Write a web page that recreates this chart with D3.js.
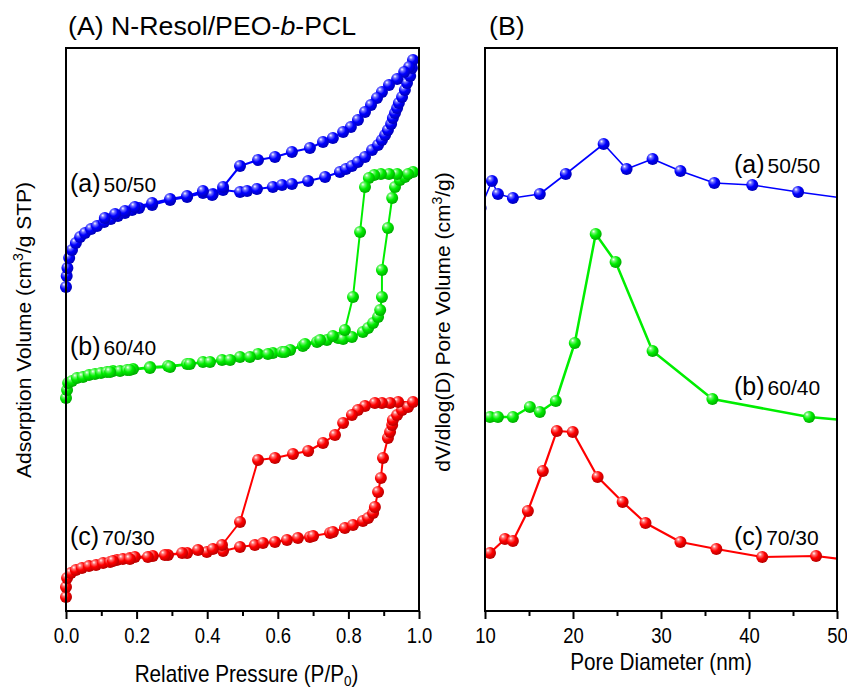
<!DOCTYPE html>
<html>
<head>
<meta charset="utf-8">
<script src="https://cdn.jsdelivr.net/npm/d3@7/dist/d3.min.js"></script>
<style>
  html, body { margin: 0; padding: 0; background: #fff; }
  svg { display: block; }
</style>
</head>
<body>
<svg id="chart" width="847" height="689"></svg>
<script>
// ---- Panel A: N2 sorption isotherms (relative pressure, adsorbed volume in offset units) ----
const isoA_ads = [[0.000,324],[0.002,335],[0.004,343],[0.009,353],[0.017,361],[0.028,368],[0.040,374],[0.054,378],[0.071,382],[0.088,385],[0.108,389],[0.127,392],[0.147,395],[0.167,398],[0.187,401],[0.207,403],[0.244,406],[0.295,411],[0.343,414],[0.388,418],[0.416,417],[0.445,421],[0.493,419],[0.513,420],[0.541,422],[0.586,424],[0.612,426],[0.640,427],[0.686,430],[0.734,434],[0.776,439],[0.793,442],[0.810,445],[0.827,449],[0.847,454],[0.867,461],[0.884,466],[0.895,471],[0.904,476],[0.912,481],[0.921,487],[0.926,493],[0.932,498],[0.938,503],[0.943,508],[0.952,514],[0.960,521],[0.966,528],[0.975,535],[0.980,543],[0.983,551]];
const isoA_des = [[0.972,544],[0.958,539],[0.938,532],[0.915,526],[0.895,519],[0.881,513],[0.864,506],[0.847,499],[0.827,491],[0.807,484],[0.785,479],[0.756,473],[0.728,469],[0.691,463],[0.640,459],[0.592,454],[0.544,451],[0.493,445],[0.445,424],[0.414,416],[0.388,420],[0.343,415],[0.295,412],[0.244,408],[0.195,404],[0.167,400],[0.139,397],[0.110,393]];

const isoB_ads = [[0.000,213],[0.003,221],[0.006,228],[0.017,230],[0.031,233],[0.048,234],[0.065,236],[0.082,237],[0.099,238],[0.116,239],[0.133,240],[0.153,240],[0.173,241],[0.190,242],[0.238,244],[0.289,245],[0.343,247],[0.388,249],[0.442,251],[0.493,254],[0.544,257],[0.586,258],[0.612,259],[0.635,261],[0.671,265],[0.711,269],[0.739,271],[0.771,273],[0.785,272],[0.810,274],[0.841,279],[0.856,283],[0.870,288],[0.884,294],[0.890,301],[0.895,314],[0.895,341],[0.912,383],[0.924,413],[0.932,424],[0.946,431],[0.960,434],[0.983,439]];
const isoB_des = [[0.969,437],[0.938,437],[0.915,437],[0.892,437],[0.873,436],[0.858,433],[0.847,424],[0.833,379],[0.813,314],[0.790,281],[0.756,275],[0.720,271],[0.677,267],[0.620,259],[0.572,257],[0.521,254],[0.465,251],[0.408,249],[0.351,247],[0.295,244],[0.238,243],[0.181,241],[0.125,239]];

const isoC_ads = [[0.000,14],[0.000,24],[0.003,33],[0.014,38],[0.028,41],[0.045,43],[0.065,45],[0.085,46],[0.105,48],[0.125,49],[0.144,51],[0.161,52],[0.181,53],[0.195,54],[0.246,55],[0.289,56],[0.343,58],[0.399,59],[0.445,60],[0.493,64],[0.535,66],[0.558,68],[0.592,69],[0.626,71],[0.657,73],[0.691,74],[0.700,75],[0.748,78],[0.756,79],[0.790,83],[0.813,86],[0.841,90],[0.856,93],[0.870,98],[0.875,104],[0.884,119],[0.892,133],[0.898,153],[0.912,173],[0.918,179],[0.924,186],[0.926,191],[0.938,196],[0.952,201],[0.969,204],[0.983,209]];
const isoC_des = [[0.941,209],[0.918,208],[0.895,208],[0.875,208],[0.847,205],[0.827,201],[0.810,196],[0.785,188],[0.762,176],[0.728,168],[0.686,160],[0.643,157],[0.592,153],[0.544,151],[0.493,89],[0.442,66],[0.416,62],[0.374,61],[0.329,58],[0.280,56],[0.232,54],[0.181,52],[0.133,50]];

// ---- Panel B: pore size distributions (pore diameter nm, dV/dlogD in offset units) ----
const psdA = [[9.5,403],[10.79,430],[11.47,417],[13.17,413],[16.23,417],[19.18,437],[23.48,467],[26.09,442],[29.04,452],[32.21,440],[36.06,428],[40.37,426],[45.58,419],[51.5,412]];
const psdB = [[10.57,194],[11.47,194],[13.17,194],[15.10,204],[16.23,199],[18.05,210],[20.20,268],[22.58,377],[24.84,349],[29.04,260],[35.84,212],[46.83,194],[52.0,190]];
const psdC = [[10.57,58],[12.27,72],[13.17,70],[14.87,100],[16.57,140],[18.16,180],[19.97,179],[22.80,134],[25.64,109],[28.24,88],[32.21,69],[36.29,62],[41.50,54],[47.62,55],[52.0,50]];

const ticksA = [0.0, 0.2, 0.4, 0.6, 0.8, 1.0];
const minorTicksA = [0.1, 0.3, 0.5, 0.7, 0.9];
const ticksB = [10, 20, 30, 40, 50];
const minorTicksB = [15, 25, 35, 45];

const sampleNames = ["(a)", "(b)", "(c)"];
const ratios = ["50/50", "60/40", "70/30"];
const colors = ["#0000ff", "#00ee00", "#ff0000"];

const svg = d3.select("#chart");
const plotTop = 48, plotBottom = 611;
const panelA = { left: 66, right: 419 };
const panelB = { left: 485, right: 837 };

const sans = "'Liberation Sans', Arial, Helvetica, sans-serif";

// sphere-style marker gradients
const defs = svg.append("defs");
colors.forEach((c, i) => {
  const g = defs.append("radialGradient").attr("id", "ball" + i)
    .attr("cx", "38%").attr("cy", "35%").attr("r", "65%").attr("fx", "32%").attr("fy", "28%");
  g.append("stop").attr("offset", "0%").attr("stop-color", "#ffffff");
  g.append("stop").attr("offset", "22%").attr("stop-color", d3.interpolateRgb("#ffffff", c)(0.55));
  g.append("stop").attr("offset", "55%").attr("stop-color", c);
  g.append("stop").attr("offset", "100%").attr("stop-color", d3.color(c).darker(0.9));
});

const xA = d3.scaleLinear().domain([0, 1]).range([panelA.left, panelA.right]);
const yA = d3.scaleLinear().domain([0, 563]).range([plotBottom, plotTop]);
const xB = d3.scaleLinear().domain([10, 50]).range([panelB.left, panelB.right]);
const yB = d3.scaleLinear().domain([0, 563]).range([plotBottom, plotTop]);

defs.append("clipPath").attr("id", "clipB").append("rect")
  .attr("x", panelB.left).attr("y", plotTop).attr("width", panelB.right - panelB.left).attr("height", plotBottom - plotTop);

function drawSeries(g, data, x, y, ci, lw, r) {
  const line = d3.line().x(d => x(d[0])).y(d => y(d[1]));
  g.append("path").datum(data).attr("d", line)
    .attr("fill", "none").attr("stroke", colors[ci]).attr("stroke-width", lw).attr("stroke-linejoin", "round");
  g.selectAll(null).data(data).enter().append("circle")
    .attr("cx", d => x(d[0])).attr("cy", d => y(d[1])).attr("r", r)
    .attr("fill", `url(#ball${ci})`);
}

// Panel A curves: adsorption then desorption branch as one trace
const gA = svg.append("g");
[[isoA_ads, isoA_des], [isoB_ads, isoB_des], [isoC_ads, isoC_des]].forEach((br, i) => {
  drawSeries(gA, br[0].concat(br[1]), xA, yA, i, 2, 6);
});

// Panel B curves
const gB = svg.append("g").attr("clip-path", "url(#clipB)");
drawSeries(gB, psdA, xB, yB, 0, 1.6, 6);
drawSeries(gB, psdB, xB, yB, 1, 2.5, 6);
drawSeries(gB, psdC, xB, yB, 2, 2.2, 6);

// Frames and bottom axes (tick labels in a condensed face)
function frame(p, x, majors, minors, fmt) {
  svg.append("rect").attr("x", p.left).attr("y", plotTop)
    .attr("width", p.right - p.left).attr("height", plotBottom - plotTop)
    .attr("fill", "none").attr("stroke", "#000").attr("stroke-width", 2);
  const ax = svg.append("g").attr("transform", `translate(0,${plotBottom})`)
    .call(d3.axisBottom(x).tickValues(majors).tickSize(8).tickPadding(8).tickFormat(fmt));
  ax.select(".domain").remove();
  ax.selectAll(".tick line").attr("stroke", "#000").attr("stroke-width", 2);
  ax.selectAll(".tick text").attr("font-family", sans).attr("font-size", 22).attr("fill", "#000")
    .attr("transform", "scale(0.84,1)");
  const mn = svg.append("g").attr("transform", `translate(0,${plotBottom})`)
    .call(d3.axisBottom(x).tickValues(minors).tickSize(5).tickFormat(""));
  mn.select(".domain").remove();
  mn.selectAll(".tick line").attr("stroke", "#000").attr("stroke-width", 2);
}
frame(panelA, xA, ticksA, minorTicksA, d3.format(".1f"));
frame(panelB, xB, ticksB, minorTicksB, d3.format("d"));

// Axis titles
const xt1 = svg.append("g").attr("transform", `translate(${(panelA.left + panelA.right) / 2 + 4},682) scale(0.9,1)`)
  .append("text").attr("text-anchor", "middle").attr("font-family", sans).attr("font-size", 23);
xt1.append("tspan").text("Relative Pressure (P/P");
xt1.append("tspan").attr("font-size", 15).attr("dy", 4).text("0");
xt1.append("tspan").attr("dy", -4).text(")");

svg.append("g").attr("transform", `translate(${(panelB.left + panelB.right) / 2},670) scale(0.9,1)`)
  .append("text").attr("text-anchor", "middle").attr("font-family", sans).attr("font-size", 23)
  .text("Pore Diameter (nm)");

const yt1 = svg.append("text").attr("transform", `translate(31,330) rotate(-90)`)
  .attr("text-anchor", "middle").attr("font-family", sans).attr("font-size", 21);
yt1.append("tspan").text("Adsorption Volume (cm");
yt1.append("tspan").attr("font-size", 14).attr("dy", -8).text("3");
yt1.append("tspan").attr("dy", 8).text("/g STP)");

const yt2 = svg.append("text").attr("transform", `translate(450,322) rotate(-90)`)
  .attr("text-anchor", "middle").attr("font-family", sans).attr("font-size", 21);
yt2.append("tspan").text("dV/dlog(D) Pore Volume (cm");
yt2.append("tspan").attr("font-size", 14).attr("dy", -8).text("3");
yt2.append("tspan").attr("dy", 8).text("/g)");

// Panel titles
const t1 = svg.append("g").attr("transform", "translate(68,35) scale(1.07,1)")
  .append("text").attr("font-family", sans).attr("font-size", 25);
t1.append("tspan").text("(A) N-Resol/PEO-");
t1.append("tspan").attr("font-style", "italic").text("b");
t1.append("tspan").text("-PCL");
svg.append("g").attr("transform", "translate(489,35) scale(1.07,1)")
  .append("text").attr("font-family", sans).attr("font-size", 25).text("(B)");

// Sample labels
function sampleLabel(x, y, i) {
  const t = svg.append("text").attr("x", x).attr("y", y).attr("font-family", sans);
  t.append("tspan").attr("font-size", 25).text(sampleNames[i]);
  t.append("tspan").attr("font-size", 21).attr("dx", 3).text(ratios[i]);
}
sampleLabel(70, 192, 0);
sampleLabel(70, 355, 1);
sampleLabel(70, 545, 2);
sampleLabel(734, 173, 0);
sampleLabel(734, 395, 1);
sampleLabel(734, 545, 2);
</script>
</body>
</html>
